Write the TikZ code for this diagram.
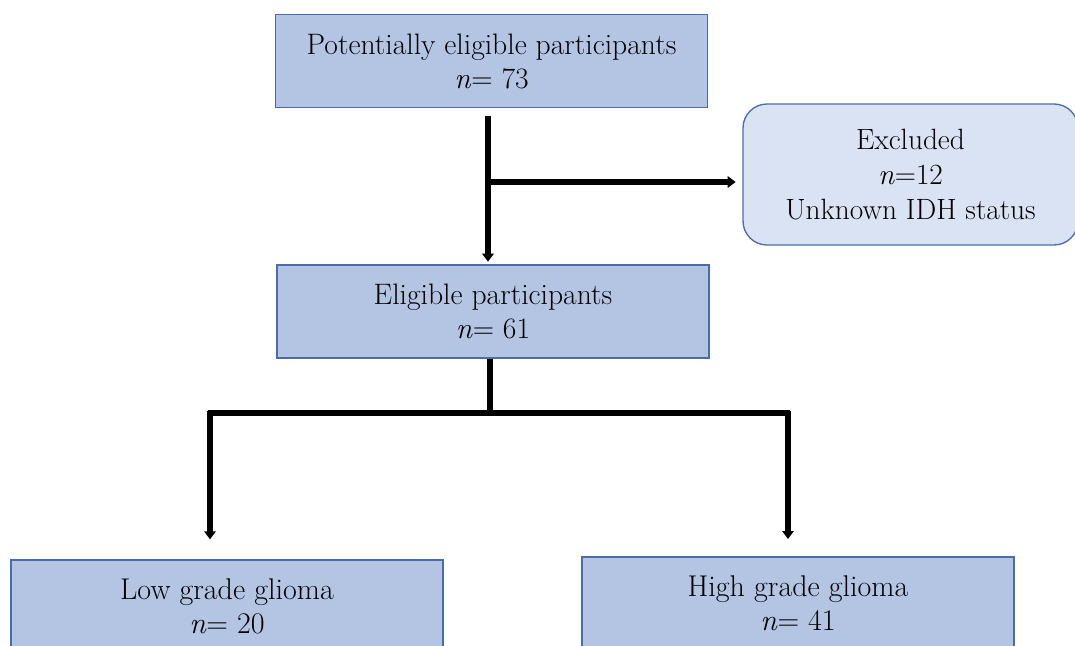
\documentclass[tikz,border=0pt]{standalone}
\usepackage{fontspec}
\usetikzlibrary{arrows.meta}
\definecolor{boxfill}{HTML}{B4C5E4}
\definecolor{boxline}{HTML}{4A6DAA}
\definecolor{exfill}{HTML}{DAE3F3}
\begin{document}
\begin{tikzpicture}[x=0.75pt,y=-0.75pt,
  box/.style={draw=boxline,line width=1pt,fill=boxfill,minimum width=324pt,minimum height=69.75pt,inner sep=0pt,align=center},
  smalltext/.style={font=\fontsize{22.2}{25.5}\selectfont},
  bigtext/.style={font=\fontsize{22.5}{25.5}\selectfont},
  extext/.style={font=\fontsize{22}{26.2}\selectfont},
  exbox/.style={draw=boxline,line width=1pt,fill=exfill,rounded corners=18pt,minimum width=251.25pt,minimum height=105.75pt,inner sep=0pt,align=center},
  conn/.style={line width=3.9pt,draw=black},
  arr/.style={conn,-{Triangle[length=6pt,width=8.5pt]}}]
\useasboundingbox (0,0) rectangle (1075,646);
\clip (0,0) rectangle (1075,646);
\node[box,smalltext] (top) at (491.5,61) {Potentially eligible participants\\\textit{n}= 73};
\node[exbox,extext] (excl) at (910.5,174.5) {Excluded\\\textit{n}=12\\Unknown IDH status};
\node[box,smalltext] (elig) at (493,311.5) {Eligible participants\\\textit{n}= 61};
\node[box,bigtext] (low) at (227,606.5) {Low grade glioma\\\textit{n}= 20};
\node[box,bigtext] (high) at (798,603.5) {High grade glioma\\\textit{n}= 41};
\coordinate (v1) at (488,116);
\coordinate (b1) at (488,182);
\coordinate (j) at (490,413);
\coordinate (jl) at (210,413);
\coordinate (jr) at (788,413);
\draw[arr,shorten >=2pt] (v1) -- (v1 |- elig.north);
\draw[arr,shorten >=5pt] (b1) -- (b1 -| excl.west);
\draw[conn] ([xshift=-2.25pt]elig.south) -- (j);
\draw[conn] ([xshift=-1.8pt]jl) -- ([xshift=1.8pt]jr);
\draw[arr,shorten >=15pt] ([yshift=1.8pt]jl) -- (jl |- low.north);
\draw[arr,shorten >=13pt] ([yshift=1.8pt]jr) -- (jr |- high.north);
\end{tikzpicture}
\end{document}
